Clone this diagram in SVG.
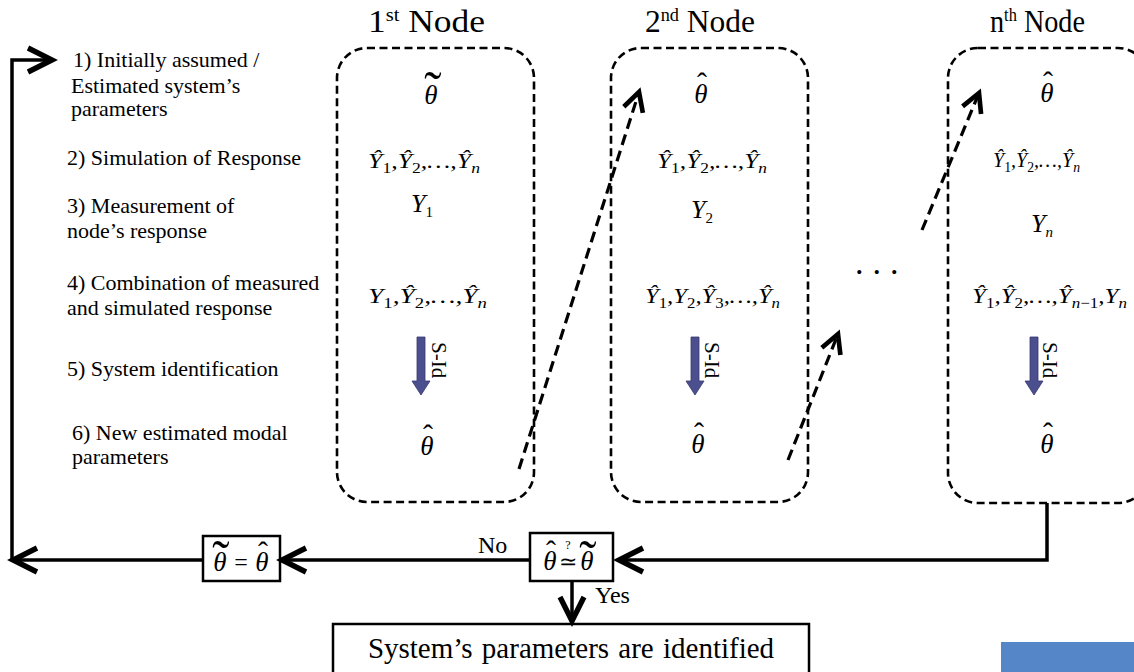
<svg xmlns="http://www.w3.org/2000/svg" width="1134" height="672" viewBox="0 0 1134 672">
<defs>
<style>
text{font-family:"Liberation Serif","Times New Roman",serif;fill:#000}
.lbl{font-size:22px}
.hdr{font-size:31px}
.sup{font-size:18px}
.m{font-style:italic;font-size:22px}
.mb{font-style:italic;font-size:26px}
.sub{font-style:normal;font-size:15px}
.subi{font-style:italic;font-size:15px}
.th{font-style:italic;font-size:27px;text-anchor:middle}
.hat{font-size:30px;text-anchor:middle}
.tld{font-size:52px;text-anchor:middle}
.sid{font-size:21px}
.box{fill:none;stroke:#000;stroke-width:2.6;stroke-dasharray:8 4.5}
.conn{fill:none;stroke:#000;stroke-width:3.5}
.dash{fill:none;stroke:#000;stroke-width:3.2;stroke-dasharray:11 6}
.sidarrow{fill:#4b4f8e;stroke:#35386e;stroke-width:0.8}
.frame{fill:#fff;stroke:#000;stroke-width:2.5}
</style>
<marker id="arr" markerUnits="userSpaceOnUse" markerWidth="40" markerHeight="40" viewBox="-25 -15 30 30" refX="0" refY="0" orient="auto" overflow="visible">
<path d="M-18,-9 L0,0 L-18,9" fill="none" stroke="#000" stroke-width="4" stroke-dasharray="none"/>
</marker>
<marker id="darr" markerUnits="userSpaceOnUse" markerWidth="40" markerHeight="40" viewBox="-25 -15 30 30" refX="0" refY="0" orient="auto" overflow="visible">
<path d="M-14,-7.5 L0,0 L-14,7.5" fill="none" stroke="#000" stroke-width="3.5" stroke-dasharray="none"/>
</marker>
</defs>
<rect width="1134" height="672" fill="#fff"/>

<g id="steps">
<text class="lbl" x="73" y="67">1) Initially assumed /</text>
<text class="lbl" x="71" y="93">Estimated system’s</text>
<text class="lbl" x="71" y="116">parameters</text>
<text class="lbl" x="67" y="165">2) Simulation of Response</text>
<text class="lbl" x="67" y="213">3) Measurement of</text>
<text class="lbl" x="67" y="238">node’s response</text>
<text class="lbl" x="67" y="290">4) Combination of measured</text>
<text class="lbl" x="67" y="315">and simulated response</text>
<text class="lbl" x="67" y="376">5) System identification</text>
<text class="lbl" x="72" y="440">6) New estimated modal</text>
<text class="lbl" x="72" y="464">parameters</text>
</g>

<g id="node1">
<text class="hdr" x="368" y="32" textLength="117" lengthAdjust="spacingAndGlyphs">1<tspan class="sup" dy="-11">st</tspan><tspan dy="11"> Node</tspan></text>
<rect class="box" x="337" y="48" width="197" height="454" rx="30"/>
<text class="th" x="431" y="104">θ</text>
<text class="tld" x="433" y="108">˜</text>
<text class="m" x="368" y="168" textLength="112" lengthAdjust="spacingAndGlyphs">Ŷ<tspan class="sub" dy="5">1</tspan><tspan dy="-5">,Ŷ</tspan><tspan class="sub" dy="5">2</tspan><tspan dy="-5">,…,Ŷ</tspan><tspan class="subi" dy="5">n</tspan></text>
<text class="mb" x="411" y="212">Y<tspan class="sub" font-size="17" dy="5">1</tspan></text>
<text class="m" x="368" y="303" textLength="119" lengthAdjust="spacingAndGlyphs">Y<tspan class="sub" dy="5">1</tspan><tspan dy="-5">,Ŷ</tspan><tspan class="sub" dy="5">2</tspan><tspan dy="-5">,…,Ŷ</tspan><tspan class="subi" dy="5">n</tspan></text>
<path class="sidarrow" d="M417,337 H425 V381 H430 L421,395 L412,381 H417 Z"/>
<text class="sid" transform="translate(432,342) rotate(90)">S-Id</text>
<text class="th" x="427" y="455">θ</text>
<text class="hat" x="428" y="445">ˆ</text>
</g>

<g id="node2">
<text class="hdr" x="645" y="32" textLength="110" lengthAdjust="spacingAndGlyphs">2<tspan class="sup" dy="-11">nd</tspan><tspan dy="11"> Node</tspan></text>
<rect class="box" x="611" y="48" width="197" height="454" rx="30"/>
<text class="th" x="701" y="103">θ</text>
<text class="hat" x="702" y="93">ˆ</text>
<text class="m" x="657" y="168" textLength="110" lengthAdjust="spacingAndGlyphs">Ŷ<tspan class="sub" dy="5">1</tspan><tspan dy="-5">,Ŷ</tspan><tspan class="sub" dy="5">2</tspan><tspan dy="-5">,…,Ŷ</tspan><tspan class="subi" dy="5">n</tspan></text>
<text class="mb" x="691" y="218">Y<tspan class="sub" font-size="17" dy="5">2</tspan></text>
<text class="m" x="645" y="303" textLength="135" lengthAdjust="spacingAndGlyphs">Ŷ<tspan class="sub" dy="5">1</tspan><tspan dy="-5">,Y</tspan><tspan class="sub" dy="5">2</tspan><tspan dy="-5">,Ŷ</tspan><tspan class="sub" dy="5">3</tspan><tspan dy="-5">,…,Ŷ</tspan><tspan class="subi" dy="5">n</tspan></text>
<path class="sidarrow" d="M691,337 H699 V381 H704 L695,395 L686,381 H691 Z"/>
<text class="sid" transform="translate(705,342) rotate(90)">S-Id</text>
<text class="th" x="698" y="453">θ</text>
<text class="hat" x="699" y="443">ˆ</text>
</g>

<g id="node3">
<text class="hdr" x="990" y="32" textLength="95" lengthAdjust="spacingAndGlyphs">n<tspan class="sup" dy="-11">th</tspan><tspan dy="11"> Node</tspan></text>
<rect class="box" x="948" y="48" width="200" height="455" rx="30"/>
<text class="th" x="1047" y="102">θ</text>
<text class="hat" x="1048" y="92">ˆ</text>
<text class="m" x="993" y="167" textLength="87" lengthAdjust="spacingAndGlyphs">Ŷ<tspan class="sub" dy="5">1</tspan><tspan dy="-5">,Ŷ</tspan><tspan class="sub" dy="5">2</tspan><tspan dy="-5">,…,Ŷ</tspan><tspan class="subi" dy="5">n</tspan></text>
<text class="mb" x="1031" y="232" font-size="24">Y<tspan class="subi" font-size="16" dy="5">n</tspan></text>
<text class="m" x="972" y="303" textLength="155" lengthAdjust="spacingAndGlyphs">Ŷ<tspan class="sub" dy="5">1</tspan><tspan dy="-5">,Ŷ</tspan><tspan class="sub" dy="5">2</tspan><tspan dy="-5">,…,Ŷ</tspan><tspan class="subi" dy="5">n</tspan><tspan class="sub">−1</tspan><tspan dy="-5">,Y</tspan><tspan class="subi" dy="5">n</tspan></text>
<path class="sidarrow" d="M1030,337 H1038 V381 H1043 L1034,395 L1025,381 H1030 Z"/>
<text class="sid" transform="translate(1043,342) rotate(90)">S-Id</text>
<text class="th" x="1047" y="453">θ</text>
<text class="hat" x="1048" y="443">ˆ</text>
</g>

<g id="ellipsis">
<text x="855" y="274" font-size="34" letter-spacing="9">...</text>
</g>

<g id="decision">
<rect class="frame" x="530" y="533" width="83" height="48"/>
<text class="th" x="550" y="570" font-size="26">θ</text>
<text class="hat" x="551" y="561">ˆ</text>
<text x="568" y="569" font-size="22" text-anchor="middle">≃</text>
<text x="568" y="549" font-size="12" text-anchor="middle">?</text>
<text class="th" x="587" y="570" font-size="26">θ</text>
<text class="tld" x="588" y="577" font-size="46">˜</text>
</g>

<g id="update">
<rect class="frame" x="203" y="536" width="77" height="45"/>
<text class="th" x="220" y="571" font-size="26">θ</text>
<text class="tld" x="221" y="577" font-size="46">˜</text>
<text x="241" y="570" font-size="24" text-anchor="middle">=</text>
<text class="th" x="262" y="571" font-size="26">θ</text>
<text class="hat" x="263" y="562">ˆ</text>
</g>

<g id="result">
<rect class="frame" x="333" y="624" width="476" height="80"/>
<text x="571" y="658" font-size="29" text-anchor="middle" word-spacing="2">System’s parameters are identified</text>
</g>

<g id="corner-box">
<rect x="1001" y="642" width="140" height="40" fill="#5586c8"/>
</g>

<g id="connectors">
<path class="conn" d="M1047,503 V560 H619" marker-end="url(#arr)"/>
<path class="conn" d="M530,560 H282" marker-end="url(#arr)"/>
<path class="conn" d="M203,560 H13" marker-end="url(#arr)"/>
<path class="conn" d="M12,561.5 V60 H52" marker-end="url(#arr)"/>
<path class="conn" d="M572,581 V621" marker-end="url(#arr)"/>
<path class="dash" d="M519,469 L639,92" marker-end="url(#darr)"/>
<path class="dash" d="M788,460 L838,334" marker-end="url(#darr)"/>
<path class="dash" d="M922,230 L979,93" marker-end="url(#darr)"/>
<text x="478" y="553" font-size="24">No</text>
<text x="595" y="603" font-size="24">Yes</text>
</g>
</svg>
